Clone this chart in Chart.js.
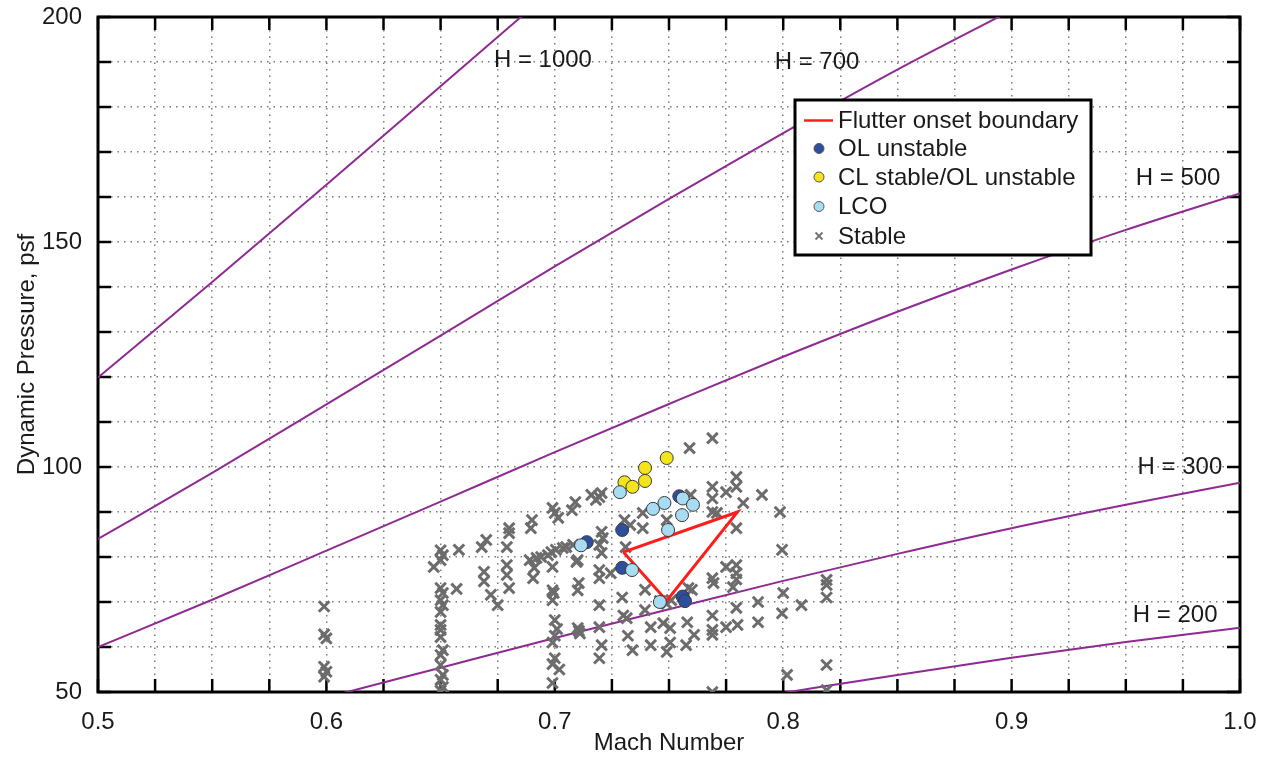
<!DOCTYPE html>
<html><head><meta charset="utf-8">
<script src="https://cdn.jsdelivr.net/npm/chart.js@4.4.1/dist/chart.umd.min.js"></script>
<style>html,body{margin:0;padding:0;background:#fff;}canvas{display:block;}</style>
</head><body>
<div style="width:1272px;height:764px;"><canvas id="c" width="1272" height="764"></canvas></div>
<script>
// ---- data ----
const xTickLabels = [0.5, 0.6, 0.7, 0.8, 0.9, 1.0];
const yTickLabels = [50, 100, 150, 200];

const machH1000 = [0.5, 0.55, 0.6, 0.65, 0.7];
const qH1000    = [119.9, 141.1, 162.7, 184.6, 206.5];
const machH700  = [0.5, 0.55, 0.6, 0.65, 0.7, 0.75, 0.8, 0.85, 0.9];
const qH700     = [84.0, 98.7, 113.9, 129.2, 144.6, 159.6, 174.2, 188.3, 201.5];
const machH500  = [0.5, 0.55, 0.6, 0.65, 0.7, 0.75, 0.8, 0.85, 0.9, 0.95, 1.0];
const qH500     = [60.0, 70.5, 81.4, 92.3, 103.3, 114.0, 124.5, 134.5, 143.9, 152.7, 160.8];
const machH300  = [0.6, 0.65, 0.7, 0.75, 0.8, 0.85, 0.9, 0.95, 1.0];
const qH300     = [48.8, 55.4, 62.0, 68.4, 74.7, 80.7, 86.4, 91.6, 96.5];
const machH200  = [0.8, 0.85, 0.9, 0.95, 1.0];
const qH200     = [49.8, 53.8, 57.6, 61.1, 64.3];

const flutterMach = [0.730, 0.780, 0.749, 0.730];
const flutterQ    = [81.1, 90.0, 70.3, 81.1];

const olUnstable = [[0.714,83.3],[0.7295,86.0],[0.7295,77.6],[0.7545,93.5],[0.756,71.2],[0.757,70.2]];
const clStable   = [[0.7305,96.6],[0.734,95.6],[0.7395,96.9],[0.7395,99.8],[0.749,102.0]];
const lco        = [[0.7285,94.4],[0.743,90.7],[0.748,92.0],[0.7560,93.0],[0.7605,91.6],[0.7557,89.3],
                    [0.7496,86.0],[0.7338,77.1],[0.746,70.0],[0.7115,82.6]];
const stable = [
 [0.599,69.0],[0.599,62.8],[0.600,61.9],[0.599,55.6],[0.600,54.5],[0.599,53.4],
 [0.650,81.5],[0.651,80.4],[0.650,79.3],[0.647,77.8],[0.650,73.1],[0.651,72.0],[0.650,70.4],[0.651,69.3],[0.650,67.8],
 [0.650,64.9],[0.650,63.8],[0.650,62.2],[0.651,59.3],[0.650,58.2],[0.650,56.0],[0.651,53.8],[0.650,52.7],[0.651,51.1],[0.650,50.3],
 [0.658,81.6],[0.657,72.9],[0.670,83.8],[0.668,82.2],[0.669,76.7],[0.669,74.6],[0.672,71.6],[0.675,69.3],
 [0.680,86.4],[0.680,85.3],[0.679,82.2],[0.679,78.2],[0.679,76.0],[0.680,73.1],
 [0.690,88.2],[0.6895,86.4],[0.691,77.6],[0.6905,75.3],[0.689,79.3],[0.692,79.8],[0.694,80.0],[0.697,80.4],[0.6985,81.1],
 [0.7005,81.6],[0.7035,82.0],[0.705,82.2],[0.708,82.7],[0.699,77.8],[0.6995,72.0],
 [0.699,90.9],[0.700,89.8],[0.7015,88.7],[0.699,72.6],[0.699,70.4],[0.700,66.0],[0.701,64.0],[0.700,62.5],[0.699,61.0],
 [0.700,57.5],[0.699,56.2],[0.702,55.0],[0.699,52.0],
 [0.7075,90.4],[0.709,92.2],[0.7095,78.9],[0.710,79.3],[0.7105,74.2],[0.710,72.6],[0.710,64.2],[0.7105,63.6],[0.711,63.0],
 [0.716,93.8],[0.718,92.7],[0.7195,93.3],
 [0.7205,85.6],[0.721,84.2],[0.7195,82.7],[0.7205,80.9],[0.7195,77.1],[0.7195,75.3],[0.7195,69.3],[0.7195,64.4],[0.7205,60.4],
 [0.7195,57.5],[0.7205,94.2],
 [0.7245,76.4],[0.7305,88.2],[0.733,87.1],[0.731,82.2],[0.7295,71.0],[0.730,67.0],[0.732,62.5],[0.734,59.3],[0.7315,66.4],
 [0.7385,89.8],[0.7385,86.4],[0.7395,72.7],[0.7395,68.2],[0.742,64.4],[0.742,60.4],
 [0.746,70.2],[0.749,69.6],[0.751,70.4],[0.7475,65.3],[0.7505,64.2],[0.7505,61.0],[0.749,58.9],[0.749,88.2],
 [0.759,104.2],[0.7595,93.8],[0.760,72.7],[0.758,65.5],[0.761,62.7],[0.7575,60.4],[0.7585,73.1],
 [0.769,106.4],[0.769,95.6],[0.769,93.0],[0.769,90.0],[0.771,89.8],[0.769,67.0],[0.769,63.8],[0.769,62.7],[0.7695,74.2],
 [0.769,75.3],[0.769,50.0],
 [0.775,94.4],[0.7795,97.8],[0.7795,95.6],[0.7825,92.0],[0.7795,86.4],[0.7795,78.2],[0.775,77.8],[0.7795,76.4],[0.7795,75.0],
 [0.778,73.3],[0.7795,68.7],[0.775,64.4],[0.780,64.9],
 [0.7907,93.8],[0.7986,90.0],[0.7995,81.6],[0.789,70.0],[0.789,65.5],[0.800,72.0],[0.7995,67.5],[0.8017,53.8],[0.808,69.3],
 [0.819,74.9],[0.819,73.8],[0.819,71.0],[0.819,56.0],[0.819,50.4]
];

const hLabelText = ['H = 1000', 'H = 700', 'H = 500', 'H = 300', 'H = 200'];
const hLabelMach = [0.6948, 0.8148, 0.9729, 0.9737, 0.9716];
const hLabelQ    = [190.4, 190.0, 164.2, 100.0, 67.1];

const legendNames = ['Flutter onset boundary', 'OL unstable', 'CL stable/OL unstable', 'LCO', 'Stable'];

// ---- styles ----
const FONT = '"Liberation Sans", Arial, Helvetica, sans-serif';
const TXT = '#1a1a1a';
const PURPLE = '#8e2a92';
const RED = '#ff1c1c';
const DBLUE = '#2d4f9e';
const YELLOW = '#f4e41c';
const LBLUE = '#a8dcf2';
const GRAY = '#6c6c6c';

const zip = (xs, ys) => xs.map((x, i) => ({x, y: ys[i]}));
const pts = arr => arr.map(p => ({x: p[0], y: p[1]}));

function hLine(mach, q) {
  return {type: 'line', data: zip(mach, q), borderColor: PURPLE, borderWidth: 2, pointRadius: 0,
    fill: false, cubicInterpolationMode: 'monotone', clip: 0, order: 10};
}
function circles(data, color, order) {
  return {type: 'scatter', data: pts(data), backgroundColor: color, borderColor: '#3a3a3a',
    borderWidth: 1, pointRadius: 6.5, pointStyle: 'circle', order};
}

const framePlugin = {
  id: 'frame',
  beforeDatasetsDraw(chart) {
    const {ctx, chartArea: {left, right, top, bottom}, scales: {x, y}} = chart;
    ctx.save();
    ctx.strokeStyle = '#000';
    ctx.lineWidth = 2.5;
    const L = 13;
    ctx.beginPath();
    x.ticks.forEach(t => {
      const px = x.getPixelForValue(t.value);
      ctx.moveTo(px, bottom); ctx.lineTo(px, bottom - L);
      ctx.moveTo(px, top); ctx.lineTo(px, top + L);
    });
    y.ticks.forEach(t => {
      const py = y.getPixelForValue(t.value);
      ctx.moveTo(left, py); ctx.lineTo(left + L, py);
      ctx.moveTo(right, py); ctx.lineTo(right - L, py);
    });
    ctx.stroke();
    ctx.lineWidth = 3;
    ctx.strokeRect(left, top, right - left, bottom - top);
    ctx.restore();
  }
};

const labelPlugin = {
  id: 'hlabels',
  afterDatasetsDraw(chart) {
    const {ctx, scales: {x, y}} = chart;
    ctx.save();
    ctx.font = '24px ' + FONT;
    ctx.fillStyle = TXT;
    ctx.textAlign = 'center';
    ctx.textBaseline = 'middle';
    hLabelText.forEach((t, i) => {
      ctx.fillText(t, x.getPixelForValue(hLabelMach[i]), y.getPixelForValue(hLabelQ[i]));
    });
    ctx.restore();
  }
};

const legendPlugin = {
  id: 'boxlegend',
  afterDraw(chart) {
    const {ctx, chartArea: {left, top}} = chart;
    const bx = left + 697, by = top + 83, bw = 296, bh = 155;
    ctx.save();
    ctx.fillStyle = '#fff';
    ctx.fillRect(bx, by, bw, bh);
    ctx.strokeStyle = '#000';
    ctx.lineWidth = 3;
    ctx.strokeRect(bx, by, bw, bh);
    const rows = [20.5, 48.5, 77, 106.5, 136];
    const sx = bx + 24;
    ctx.strokeStyle = RED; ctx.lineWidth = 2.5;
    ctx.beginPath(); ctx.moveTo(bx + 9, by + rows[0]); ctx.lineTo(bx + 38, by + rows[0]); ctx.stroke();
    const circ = (cy, col) => {
      ctx.beginPath(); ctx.arc(sx, cy, 5, 0, Math.PI * 2);
      ctx.fillStyle = col; ctx.fill();
      ctx.strokeStyle = '#555'; ctx.lineWidth = 1; ctx.stroke();
    };
    circ(by + rows[1], DBLUE);
    circ(by + rows[2], YELLOW);
    circ(by + rows[3], LBLUE);
    ctx.strokeStyle = '#777'; ctx.lineWidth = 2;
    const c = by + rows[4], r = 3.5;
    ctx.beginPath();
    ctx.moveTo(sx - r, c - r); ctx.lineTo(sx + r, c + r);
    ctx.moveTo(sx + r, c - r); ctx.lineTo(sx - r, c + r);
    ctx.stroke();
    ctx.font = '24px ' + FONT;
    ctx.fillStyle = TXT;
    ctx.textAlign = 'left';
    ctx.textBaseline = 'middle';
    legendNames.forEach((n, i) => ctx.fillText(n, bx + 43, by + rows[i] + 1));
    ctx.restore();
  }
};

new Chart(document.getElementById('c'), {
  data: {
    datasets: [
      hLine(machH1000, qH1000),
      hLine(machH700, qH700),
      hLine(machH500, qH500),
      hLine(machH300, qH300),
      hLine(machH200, qH200),
      {type: 'scatter', label: 'Stable', data: pts(stable), pointStyle: 'crossRot', pointRadius: 7.5,
        borderColor: GRAY, backgroundColor: GRAY, borderWidth: 3, order: 6},
      {type: 'line', label: 'Flutter onset boundary', data: zip(flutterMach, flutterQ), borderColor: RED,
        borderWidth: 3, pointRadius: 0, fill: false, tension: 0, order: 5},
      circles(olUnstable, DBLUE, 3),
      circles(clStable, YELLOW, 2),
      circles(lco, LBLUE, 1)
    ]
  },
  options: {
    responsive: false,
    animation: false,
    devicePixelRatio: 1,
    layout: {padding: {top: 17, right: 32, bottom: 0, left: 0}},
    plugins: {legend: {display: false}, tooltip: {enabled: false}},
    scales: {
      x: {
        type: 'linear', position: 'bottom', min: 0.5, max: 1.0,
        afterFit: s => { s.height = 72; s.paddingLeft = 0; s.paddingRight = 0; },
        ticks: {
          stepSize: 0.025, autoSkip: false, maxRotation: 0, padding: 16,
          color: TXT, font: {family: FONT, size: 24},
          callback: v => xTickLabels.some(t => Math.abs(t - v) < 1e-6) ? v.toFixed(1) : ''
        },
        grid: {color: '#7a7a7a', lineWidth: 1.5, drawTicks: false},
        border: {display: false, dash: [1.5, 5]},
        title: {display: true, text: 'Mach Number', color: TXT, font: {family: FONT, size: 24},
          padding: {top: 0, bottom: 6}}
      },
      y: {
        type: 'linear', position: 'left', min: 50, max: 200,
        afterFit: s => { s.width = 98; s.paddingTop = 0; s.paddingBottom = 0; },
        ticks: {
          stepSize: 10, autoSkip: false, padding: 16,
          color: TXT, font: {family: FONT, size: 24},
          callback: v => yTickLabels.includes(Math.round(v)) && Math.abs(v - Math.round(v)) < 1e-6 ? String(Math.round(v)) : ''
        },
        grid: {color: '#7a7a7a', lineWidth: 1.5, drawTicks: false},
        border: {display: false, dash: [1.5, 5]},
        title: {display: true, text: 'Dynamic Pressure, psf', color: TXT, font: {family: FONT, size: 24},
          padding: {top: 13, bottom: 0}}
      }
    }
  },
  plugins: [framePlugin, labelPlugin, legendPlugin]
});
</script>
</body></html>
